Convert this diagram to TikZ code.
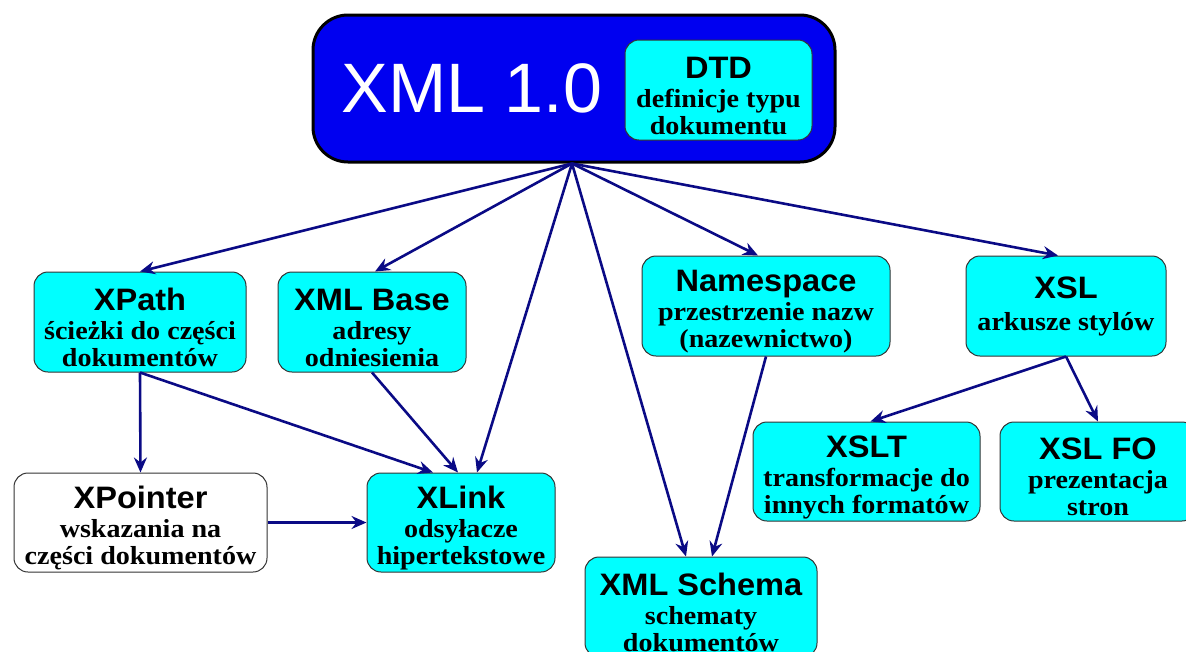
\documentclass[tikz,border=0pt]{standalone}
\usepackage{fontspec}
\setmainfont{Liberation Serif}
\setsansfont{Liberation Sans}
\newfontfamily\subserif{Liberation Serif}[FakeStretch=1.08]
\newfontfamily\titlesans{Liberation Sans}[FakeStretch=1.05]
\usetikzlibrary{arrows.meta,calc}
\definecolor{arrowblue}{HTML}{0A0A85}
\definecolor{boxcyan}{HTML}{00FFFF}
\definecolor{mainblue}{HTML}{0000F0}
\newcommand{\ttl}[1]{{\titlesans\bfseries\fontsize{31}{31}\selectfont\rule{0pt}{33pt}#1}}
\newcommand{\ttlx}[1]{{\titlesans\bfseries\fontsize{31}{31}\selectfont #1}}
\begin{document}
\begin{tikzpicture}[x=1pt,y=-1pt,
  box/.style={draw=black!80, line width=1pt, fill=boxcyan, rounded corners=14pt,
    inner sep=0pt, align=center, font=\subserif\bfseries\fontsize{26}{27}\selectfont},
  conn/.style={draw=arrowblue, line width=2.6pt,
    -{Stealth[length=15pt,width=13pt,inset=5pt]}}]
\useasboundingbox (0,0) rectangle (1186,651);
% main box
\node[draw=black, line width=3pt, fill=mainblue, rounded corners=35pt,
  minimum width=522pt, minimum height=147pt] (main) at (574,88.5) {};
\node[text=white, font=\sffamily\fontsize{70}{70}\selectfont, inner sep=0pt] (xmltxt) at (472,88) {XML 1.0};
\node[box, minimum width=187pt, minimum height=100pt] (dtd) at (718.5,90)
  {\ttl{DTD}\\[2pt] definicje typu\\ dokumentu};
% second row
\node[box, minimum width=212pt, minimum height=100pt] (xpath) at (140,322)
  {\ttl{XPath}\\[2pt] ścieżki do części\\ dokumentów};
\node[box, minimum width=188pt, minimum height=100pt] (xmlbase) at (372,322)
  {\ttl{XML Base}\\[2pt] adresy\\ odniesienia};
\node[box, minimum width=248pt, minimum height=100pt] (ns) at (766,306)
  {\ttl{Namespace}\\[2pt] przestrzenie nazw\\ (nazewnictwo)};
\node[box, minimum width=200pt, minimum height=100pt] (xsl) at (1066,306)
  {\ttlx{XSL}\\[5pt] arkusze stylów};
% third row
\node[box, fill=white, minimum width=253pt, minimum height=99pt] (xpointer) at (140.5,522.5)
  {\ttl{XPointer}\\[2pt] wskazania na\\ części dokumentów};
\node[box, minimum width=188pt, minimum height=99pt] (xlink) at (461,522.5)
  {\ttl{XLink}\\[2pt] odsyłacze\\ hipertekstowe};
\node[box, minimum width=227pt, minimum height=99pt] (xslt) at (866.5,471.5)
  {\ttl{XSLT}\\[2pt] transformacje do\\ innych formatów};
\node[box, minimum width=196pt, minimum height=99pt] (xslfo) at (1098,471.5)
  {\ttl{XSL FO}\\[2pt] prezentacja\\ stron};
\node[box, minimum width=232pt, minimum height=100pt] (schema) at (701,607)
  {\ttl{XML Schema}\\[2pt] schematy\\ dokumentów};
% connectors
\coordinate (src) at ([xshift=-2pt]main.south);
\draw[conn] (src) -- (xpath.north);
\draw[conn] (src) -- ([xshift=3pt]xmlbase.north);
\draw[conn] (src) -- ([xshift=16pt]xlink.north);
\draw[conn] (src) -- ([xshift=-15pt]schema.north);
\draw[conn] (src) -- ([xshift=-8pt]ns.north);
\draw[conn] (src) -- ([xshift=-8pt]xsl.north);
\draw[conn] (xpath.south) -- (xpointer.north);
\draw[conn] (xpath.south) -- ([xshift=-28pt]xlink.north);
\draw[conn] (xmlbase.south) -- ([xshift=-3pt]xlink.north);
\draw[conn] (xpointer.east) -- (xlink.west);
\draw[conn] (ns.south) -- ([xshift=11pt]schema.north);
\draw[conn] (xsl.south) -- ([xshift=4pt]xslt.north);
\draw[conn] (xsl.south) -- (xslfo.north);
\end{tikzpicture}
\end{document}
